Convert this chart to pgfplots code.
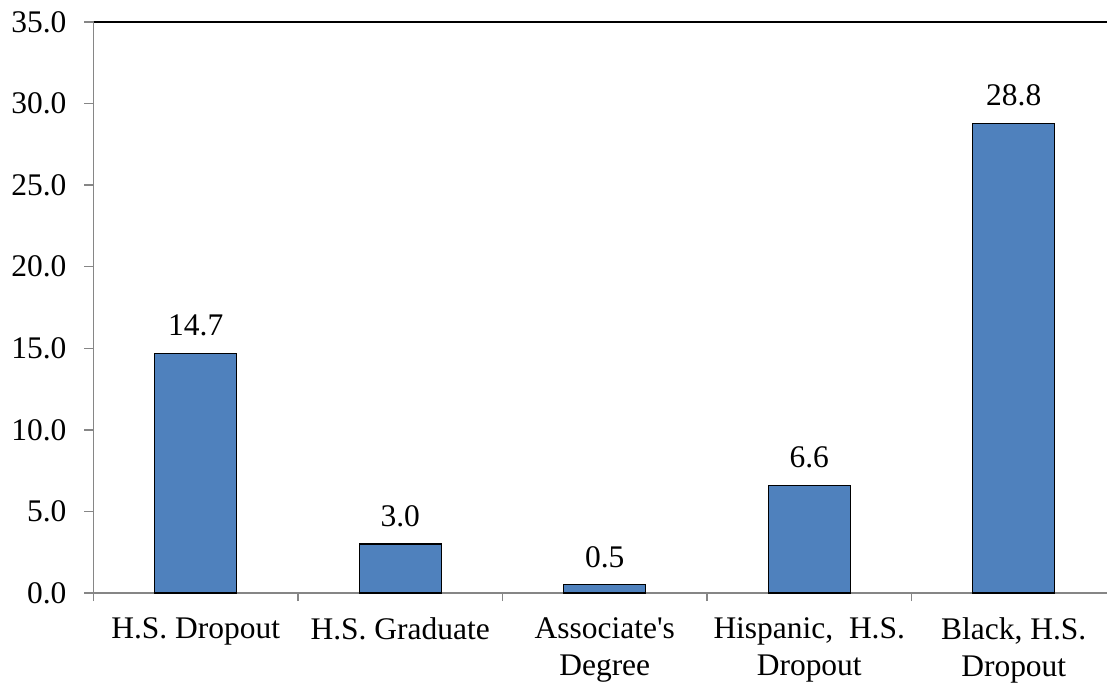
\documentclass[border=0pt]{standalone}
\usepackage{fontspec}
\setmainfont{Liberation Serif}
\usepackage{pgfplots}
\pgfplotsset{compat=1.18}
\definecolor{barblue}{HTML}{4F81BD}
\definecolor{axgray}{HTML}{868686}
\newcommand{\chartfont}{\fontsize{15.8}{18.5}\selectfont}
\begin{document}
\begin{tikzpicture}
\begin{axis}[
  at={(0,0)}, anchor=south west,
  scale only axis,
  width=506.75bp, height=285.5bp,
  xmin=-0.5, xmax=4.456,
  ymin=0, ymax=35,
  axis x line*=bottom, axis y line*=left,
  axis line style={draw=axgray, line width=0.75bp, -},
  ytick={0,5,...,35},
  /pgf/number format/fixed,
  /pgf/number format/fixed zerofill,
  /pgf/number format/precision=1,
  /pgf/number format/assume math mode=true,
  y tick label style={font=\chartfont, xshift=-5.5bp},
  ytick style={draw=axgray, line width=0.75bp},
  tick align=outside,
  major tick length=4.5bp,
  xtick={0,1,2,3,4},
  x tick style={draw=none},
  xticklabels={H.S. Dropout, H.S. Graduate, Associate\textquotesingle s\\Degree, {Hispanic,\ \ H.S.}\\Dropout, {Black, H.S.}\\Dropout},
  x tick label style={font=\chartfont, align=center, yshift=-4.5bp},
  extra x ticks={-0.5,0.5,1.5,2.5,3.5},
  extra x tick labels={},
  extra x tick style={x tick style={draw=axgray, line width=0.75bp}, major tick length=4bp},
  ybar, bar width=0.4,
  nodes near coords,
  every node near coord/.append style={font=\chartfont, black, yshift=5bp},
  clip=false,
]
\addplot[fill=barblue, draw=black, line width=0.6bp] coordinates {(0,14.7) (1,3.0) (2,0.5) (3,6.6) (4,28.8)};
\draw[black, line width=0.6bp] (rel axis cs:0,1) -- (rel axis cs:1,1);
\end{axis}
\pgfresetboundingbox
\path (-46.75bp,-46.5bp) rectangle (506.75bp,296.5bp);
\end{tikzpicture}
\end{document}
